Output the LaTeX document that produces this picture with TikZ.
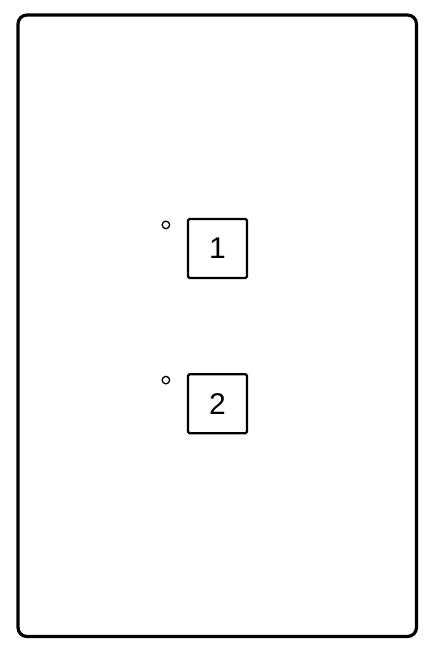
\documentclass[tikz,border=0pt]{standalone}
\usepackage{fontspec}
\setmainfont{Liberation Sans}
\usetikzlibrary{positioning, calc}

\begin{document}
\begin{tikzpicture}[x=1pt,y=-1pt,node distance=94pt,
		plate/.style={draw,line width=3.2pt,rounded corners=9pt},
		key node/.style={rectangle,draw,line width=2.2pt,rounded corners=1.5pt,minimum size=59pt,inner sep=0pt,font=\fontsize{30}{34}\selectfont},
		led/.style={circle,draw,line width=1.3pt,minimum size=7.5pt,inner sep=0pt}]
		
		\useasboundingbox (0,0) rectangle (445,659);
		\draw[plate] (18,15) rectangle (416.5,636.5);
		
		\node[key node] (1) at (217.5,248.5) {1};
		\node[key node] (2) [below=of 1] {2};
		
		\node[led] (led1) at ($(1.north west)+(-21,7)$) {};
		\node[led] (led2) at ($(2.north west)+(-21,7)$) {};
		
	\end{tikzpicture}
\end{document}
